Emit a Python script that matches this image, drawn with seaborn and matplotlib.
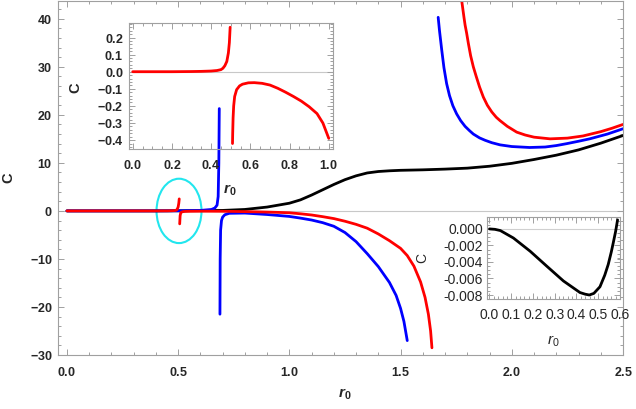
import matplotlib
matplotlib.use("Agg")
import matplotlib.pyplot as plt
from matplotlib.patches import Ellipse
from matplotlib.ticker import MultipleLocator, FuncFormatter, FormatStrFormatter
import seaborn as sns

# main panel: black curve
black_r = [0.0, 0.2, 0.4, 0.6, 0.7, 0.8, 0.9, 1.0, 1.05, 1.1, 1.15, 1.2, 1.25, 1.3, 1.35,
           1.4, 1.45, 1.5, 1.6, 1.7, 1.8, 1.9, 2.0, 2.1, 2.2, 2.3, 2.4, 2.5]
black_c = [0.0, 0.0, 0.0, 0.05, 0.1, 0.3, 0.8, 1.6, 2.3, 3.3, 4.4, 5.5, 6.5, 7.3, 7.9,
           8.2, 8.35, 8.45, 8.55, 8.7, 8.9, 9.3, 9.9, 10.7, 11.6, 12.7, 14.1, 15.7]

# blue curve, three branches
blue_a_r = [0.0, 0.3, 0.5, 0.6, 0.65, 0.665, 0.675, 0.68, 0.683, 0.685]
blue_a_c = [0.0, 0.0, 0.02, 0.1, 0.3, 0.6, 1.2, 3.0, 10.0, 21.3]
blue_b_r = [0.688, 0.689, 0.691, 0.695, 0.70, 0.71, 0.73, 0.8, 0.9, 1.0, 1.05, 1.1, 1.15,
            1.2, 1.25, 1.3, 1.35, 1.4, 1.45, 1.48, 1.5, 1.515, 1.53]
blue_b_c = [-21.5, -10.0, -4.0, -2.0, -1.3, -0.8, -0.5, -0.45, -0.75, -1.15, -1.5, -1.9, -2.45,
            -3.2, -4.5, -6.4, -8.9, -11.6, -14.9, -17.6, -20.3, -23.0, -27.0]
blue_c_r = [1.669, 1.675, 1.685, 1.695, 1.707, 1.72, 1.735, 1.752, 1.77, 1.79, 1.81, 1.827,
            1.855, 1.88, 1.91, 1.947, 2.0, 2.08, 2.15, 2.2, 2.247, 2.3, 2.35, 2.43, 2.5]
blue_c_c = [40.3, 37.5, 33.5, 29.8, 26.5, 24.0, 21.9, 20.2, 18.8, 17.6, 16.7, 16.0,
            15.2, 14.7, 14.2, 13.75, 13.4, 13.2, 13.3, 13.6, 14.0, 14.5, 15.0, 16.0, 17.1]

# red curve, three branches
red_a_r = [0.0, 0.2, 0.4, 0.45, 0.47, 0.48, 0.49, 0.495, 0.5, 0.503, 0.505]
red_a_c = [0.0, 0.0, 0.003, 0.012, 0.035, 0.06, 0.12, 0.26, 0.8, 1.6, 2.5]
red_b_r = [0.507, 0.509, 0.512, 0.52, 0.53, 0.55, 0.6, 0.65, 0.7, 0.75, 0.8, 0.85, 0.9,
           0.95, 1.0, 1.05, 1.1, 1.15, 1.2, 1.25, 1.3, 1.35, 1.4, 1.45, 1.5, 1.53, 1.56,
           1.59, 1.61, 1.625, 1.635, 1.641]
red_b_c = [-2.7, -1.0, -0.35, -0.17, -0.11, -0.08, -0.063, -0.068, -0.08, -0.11, -0.15,
           -0.19, -0.245, -0.31, -0.39, -0.6, -0.85, -1.2, -1.6, -2.15, -2.8, -3.6, -4.8,
           -6.2, -7.8, -9.3, -11.5, -14.8, -18.0, -21.5, -25.0, -28.5]
red_c_r = [1.775, 1.78, 1.785, 1.79, 1.797, 1.805, 1.815, 1.827, 1.84, 1.855, 1.872, 1.89,
           1.91, 1.93, 1.947, 1.98, 2.022, 2.06, 2.1, 2.172, 2.25, 2.32, 2.4, 2.45, 2.5]
red_c_c = [43.7, 42.0, 40.3, 38.7, 37.0, 34.8, 32.3, 30.0, 28.0, 25.8, 23.7, 22.0,
           20.6, 19.5, 18.8, 17.6, 16.4, 15.8, 15.35, 15.0, 15.15, 15.6, 16.5, 17.2, 18.0]

# inset 1 (red near r0 = 0.5)
in1_a_r = [0.0, 0.1, 0.2, 0.3, 0.35, 0.4, 0.43, 0.45, 0.46, 0.47, 0.48, 0.488, 0.493, 0.497]
in1_a_c = [0.0, 0.0, 0.0, 0.001, 0.002, 0.004, 0.007, 0.012, 0.02, 0.035, 0.06, 0.11, 0.17, 0.26]
in1_b_r = [0.509, 0.510, 0.512, 0.515, 0.52, 0.53, 0.545, 0.56, 0.59, 0.62, 0.66, 0.7,
           0.74, 0.78, 0.82, 0.86, 0.9, 0.94, 0.97, 1.0]
in1_b_c = [-0.42, -0.36, -0.27, -0.2, -0.145, -0.105, -0.083, -0.073, -0.065, -0.064,
           -0.068, -0.078, -0.097, -0.12, -0.145, -0.172, -0.205, -0.245, -0.3, -0.39]

# inset 2 (black for small r0)
in2_r = [0.0, 0.025, 0.05, 0.11, 0.187, 0.263, 0.34, 0.416, 0.44, 0.459, 0.48, 0.508,
         0.53, 0.546, 0.56, 0.569, 0.58, 0.589]
in2_c = [0.0, -0.00005, -0.0002, -0.0011, -0.0027, -0.0045, -0.0063, -0.0077, -0.0079,
         -0.0080, -0.0078, -0.0070, -0.0056, -0.0043, -0.0028, -0.0017, -0.0003, 0.0011]

sns.set_style("white")
plt.rcParams['font.family'] = 'Liberation Sans'
plt.rcParams['mathtext.fontset'] = 'custom'
plt.rcParams['mathtext.rm'] = 'Liberation Sans:normal'
plt.rcParams['mathtext.it'] = 'Liberation Sans:italic:normal'
plt.rcParams['mathtext.bf'] = 'Liberation Sans:bold'
plt.rcParams['mathtext.bfit'] = 'Liberation Sans:italic:bold'

FRAME = '#a0a0a0'
LW = 2.0


def bold_fmt(fmt):
    # bold tick labels through mathtext
    def f(v, pos):
        s = fmt % v
        if s.startswith('-'):
            return r'$\mathbf{-' + s[1:] + '}$'
        return r'$\mathbf{' + s + '}$'
    return FuncFormatter(f)


def frame_style(ax, labelsize, xpad, ypad):
    for s in ax.spines.values():
        s.set_color(FRAME)
        s.set_linewidth(0.8)
        s.set_visible(True)
    ax.tick_params(which='both', direction='in', color=FRAME, top=True, right=True,
                   bottom=True, left=True, labelsize=labelsize, width=0.7)
    ax.tick_params(which='major', length=4.5)
    ax.tick_params(which='minor', length=2.5)
    ax.tick_params(axis='x', pad=xpad)
    ax.tick_params(axis='y', pad=ypad)


fig = plt.figure(figsize=(6.36, 4.09), dpi=100)
ax = fig.add_axes([0.0912, 0.132, 0.8884, 0.8656])

ax.axhline(0, color='#c8c8c8', lw=0.8, zorder=0)
for r, c, col in [(black_r, black_c, 'black'),
                  (blue_a_r, blue_a_c, 'blue'), (blue_b_r, blue_b_c, 'blue'),
                  (blue_c_r, blue_c_c, 'blue'),
                  (red_a_r, red_a_c, 'red'), (red_b_r, red_b_c, 'red'),
                  (red_c_r, red_c_c, 'red')]:
    sns.lineplot(x=r, y=c, ax=ax, color=col, lw=LW, estimator=None, sort=False)

ax.add_patch(Ellipse((0.504, 0.0), 0.202, 13.4, fill=False, edgecolor='#22e6ee', lw=1.5))

ax.set_xlim(-0.04, 2.5)
ax.set_ylim(-30, 43.7)
ax.xaxis.set_major_locator(MultipleLocator(0.5))
ax.xaxis.set_minor_locator(MultipleLocator(0.1))
ax.yaxis.set_major_locator(MultipleLocator(10))
ax.yaxis.set_minor_locator(MultipleLocator(2))
ax.xaxis.set_major_formatter(bold_fmt('%.1f'))
ax.yaxis.set_major_formatter(bold_fmt('%d'))
frame_style(ax, 9, 8, 4)
ax.set_xlabel(r'$\mathbfit{r}_{\mathbf{0}}$', fontsize=11)
ax.set_ylabel(r'$\mathbf{C}$', fontsize=10.5)
ax.xaxis.set_label_coords(0.508, -0.09)
ax.yaxis.set_label_coords(-0.075, 0.5)

# inset 1
ax1 = fig.add_axes([0.2028, 0.6357, 0.3203, 0.3073])
ax1.patch.set_alpha(0)
ax1.axhline(0, color='#c8c8c8', lw=0.8, zorder=0)
sns.lineplot(x=in1_a_r, y=in1_a_c, ax=ax1, color='red', lw=LW, estimator=None, sort=False)
sns.lineplot(x=in1_b_r, y=in1_b_c, ax=ax1, color='red', lw=LW, estimator=None, sort=False)
ax1.set_xlim(-0.019, 1.02)
ax1.set_ylim(-0.452, 0.283)
ax1.xaxis.set_major_locator(MultipleLocator(0.2))
ax1.xaxis.set_minor_locator(MultipleLocator(0.05))
ax1.yaxis.set_major_locator(MultipleLocator(0.1))
ax1.yaxis.set_minor_locator(MultipleLocator(0.02))
ax1.xaxis.set_major_formatter(bold_fmt('%.1f'))
ax1.yaxis.set_major_formatter(bold_fmt('%.1f'))
frame_style(ax1, 9, 7, 4)
ax1.set_xlabel(r'$\mathbfit{r}_{\mathbf{0}}$', fontsize=11)
ax1.set_ylabel(r'$\mathbf{C}$', fontsize=10.5)
ax1.xaxis.set_label_coords(0.496, -0.27)
ax1.yaxis.set_label_coords(-0.225, 0.485)

# inset 2 (plain text)
ax2 = fig.add_axes([0.7662, 0.2682, 0.2086, 0.2020])
ax2.patch.set_alpha(0)
ax2.axhline(0, color='#d0d0d0', lw=0.8, zorder=0)
sns.lineplot(x=in2_r, y=in2_c, ax=ax2, color='black', lw=LW, estimator=None, sort=False)
ax2.set_xlim(-0.01, 0.6)
ax2.set_ylim(-0.00852, 0.00148)
ax2.xaxis.set_major_locator(MultipleLocator(0.1))
ax2.xaxis.set_minor_locator(MultipleLocator(0.02))
ax2.yaxis.set_major_locator(MultipleLocator(0.002))
ax2.yaxis.set_minor_locator(MultipleLocator(0.0005))
ax2.xaxis.set_major_formatter(FormatStrFormatter('%.1f'))
ax2.yaxis.set_major_formatter(FormatStrFormatter('%.3f'))
frame_style(ax2, 10, 6, 3)
ax2.set_xlabel(r'$\mathit{r}_{\mathrm{0}}$', fontsize=11)
ax2.set_ylabel('C', fontsize=10)
ax2.xaxis.set_label_coords(0.5, -0.42)
ax2.yaxis.set_label_coords(-0.44, 0.5)

fig.savefig('out.png', dpi=100)
